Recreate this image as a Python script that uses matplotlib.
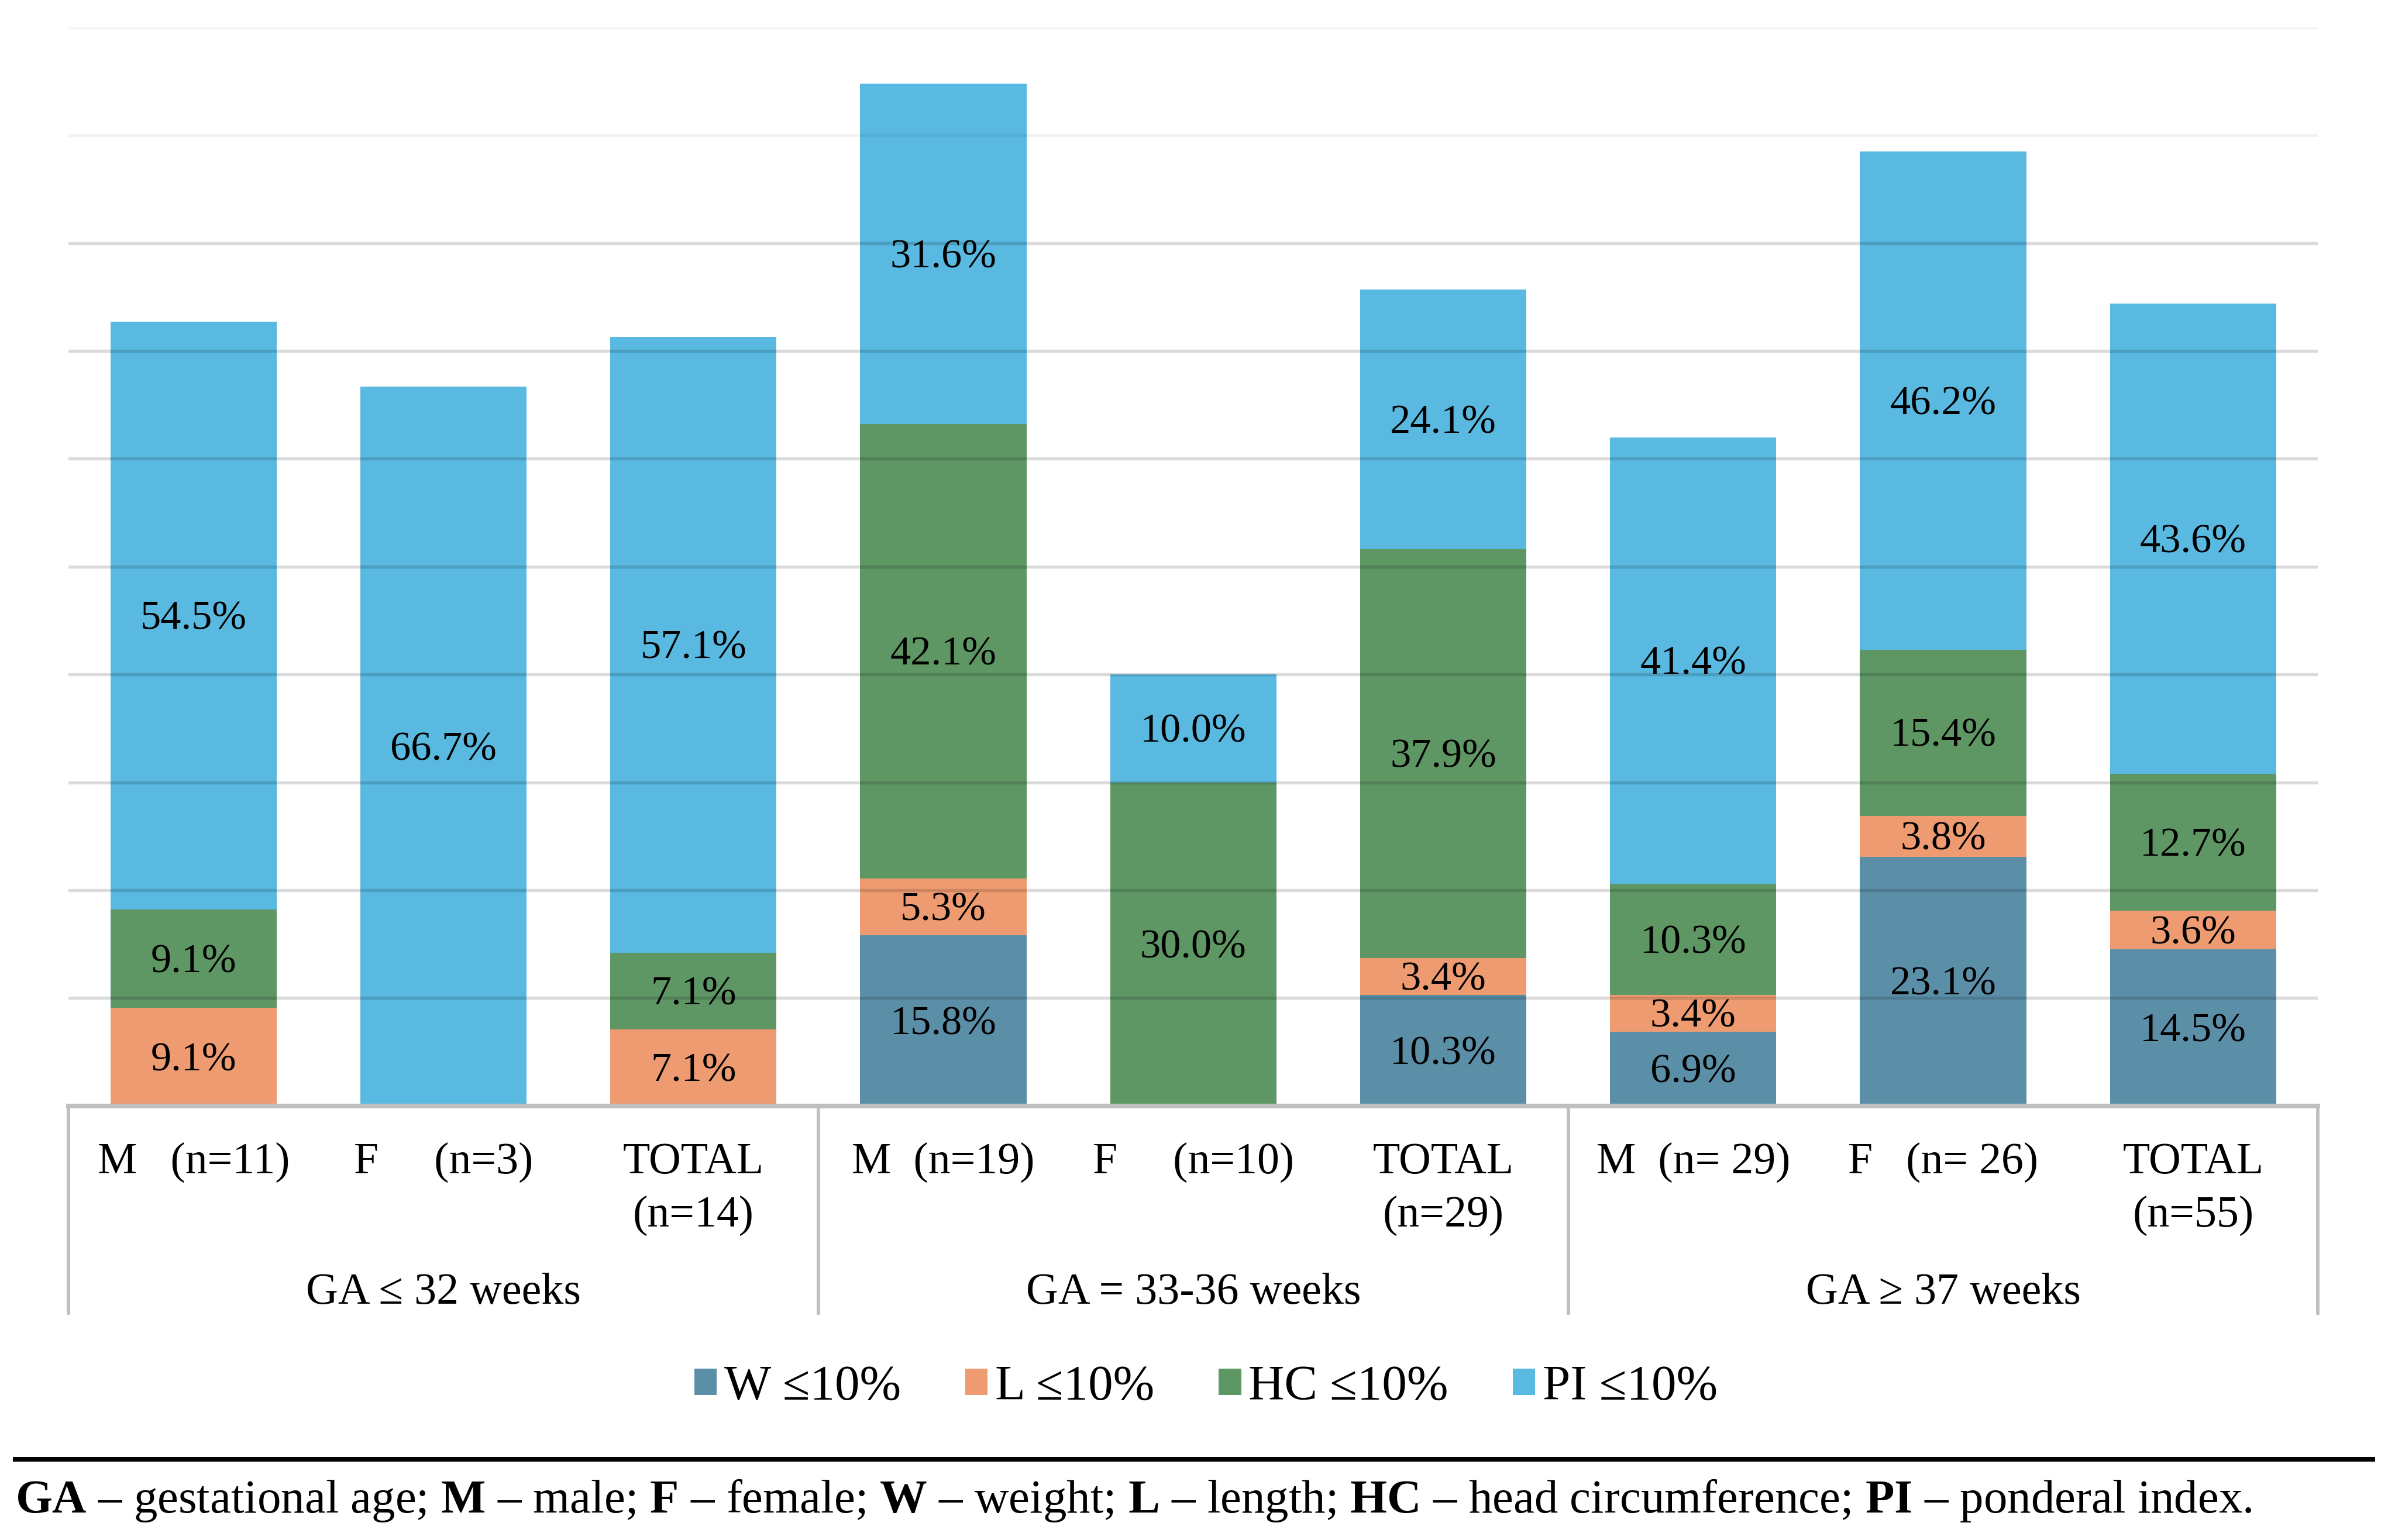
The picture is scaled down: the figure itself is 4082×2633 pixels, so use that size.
import numpy as np
import matplotlib.pyplot as plt
from matplotlib.patches import Patch
from matplotlib.lines import Line2D
import matplotlib.transforms as mtransforms

plt.rcParams['font.family'] = ['Liberation Serif', 'DejaVu Serif']
plt.rcParams['mathtext.fontset'] = 'custom'
plt.rcParams['mathtext.rm'] = 'Liberation Serif'
plt.rcParams['mathtext.bf'] = 'Liberation Serif:bold'

# data (percent of each subgroup)
groups = ["GA ≤ 32 weeks", "GA = 33-36 weeks", "GA ≥ 37 weeks"]
categories = ["M   (n=11)", "F     (n=3)", "TOTAL\n(n=14)",
              "M  (n=19)", "F     (n=10)", "TOTAL\n(n=29)",
              "M  (n= 29)", "F   (n= 26)", "TOTAL\n(n=55)"]
series = ["W ≤10%", "L ≤10%", "HC ≤10%", "PI ≤10%"]
W = [0, 0, 0, 15.8, 0, 10.3, 6.9, 23.1, 14.5]
L = [9.1, 0, 7.1, 5.3, 0, 3.4, 3.4, 3.8, 3.6]
HC = [9.1, 0, 7.1, 42.1, 30.0, 37.9, 10.3, 15.4, 12.7]
PI = [54.5, 66.7, 57.1, 31.6, 10.0, 24.1, 41.4, 46.2, 43.6]
colors = ['#5B8FA8', '#EF9B71', '#5E9664', '#59B9E0']

footnote = (r"$\mathbf{GA}$ – gestational age; $\mathbf{M}$ – male; $\mathbf{F}$ – female; "
            r"$\mathbf{W}$ – weight; $\mathbf{L}$ – length; $\mathbf{HC}$ – head circumference; "
            r"$\mathbf{PI}$ – ponderal index.")

fig = plt.figure(figsize=(4082/260, 2633/260), dpi=260)
ax = fig.add_axes([0.0287, 0.2819, 0.9420, 0.7003])

x = np.arange(len(categories))
bottom = np.zeros(len(categories))
for vals, name, c in zip([W, L, HC, PI], series, colors):
    vals = np.array(vals)
    ax.bar(x, vals, 0.665, bottom=bottom, color=c, label=name, zorder=2)
    for xi, b, v in zip(x, bottom, vals):
        if v > 0:
            ax.text(xi, b + v/2 - 0.35, "{:.1f}%".format(v), ha='center', va='center',
                    fontsize=19.5, color='black', zorder=5)
    bottom = bottom + vals

# gridlines (drawn over bars, slightly see-through)
for v in range(10, 101, 10):
    a = 0.05 if v >= 90 else 0.14
    ax.axhline(v, color='black', alpha=a, lw=1.5, zorder=3)

ax.set_xlim(-0.5, len(categories) - 0.5)
ax.set_ylim(0, 100)
ax.set_xticks([])
ax.set_yticks([])
for s in ['top', 'right', 'left']:
    ax.spines[s].set_visible(False)
ax.spines['bottom'].set_color('#BFBFBF')
ax.spines['bottom'].set_linewidth(2.2)

trans = mtransforms.blended_transform_factory(ax.transData, ax.transAxes)

# category labels
for xi, lab in zip(x, categories):
    lines = lab.split("\n")
    for k, ln in enumerate(lines):
        ax.text(xi, -0.0525 - k*0.0494, ln, transform=trans, ha='center', va='center',
                fontsize=21)

# group labels and separators
for g, name in enumerate(groups):
    ax.text(3*g + 1, -0.1735, name, transform=trans, ha='center', va='center', fontsize=21)
for xs in [-0.5, 2.5, 5.5, 8.5]:
    ax.plot([xs, xs], [0, -0.192], transform=trans, color='#BFBFBF', lw=1.6,
            clip_on=False)

handles = [Patch(facecolor=c, edgecolor='none') for c in colors]
fig.legend(handles, series, loc='center', bbox_to_anchor=(0.505, 0.099), ncol=4,
           frameon=False, fontsize=23.5, handlelength=0.45, handleheight=0.45,
           handletextpad=0.15, columnspacing=1.3)

fig.add_artist(Line2D([0.0064, 0.9936], [0.0524, 0.0524], color='black', lw=2.2))
fig.text(0.0064, 0.0178, footnote, ha='left', va='baseline', fontsize=22.4)

fig.savefig("out.png", dpi=260)
